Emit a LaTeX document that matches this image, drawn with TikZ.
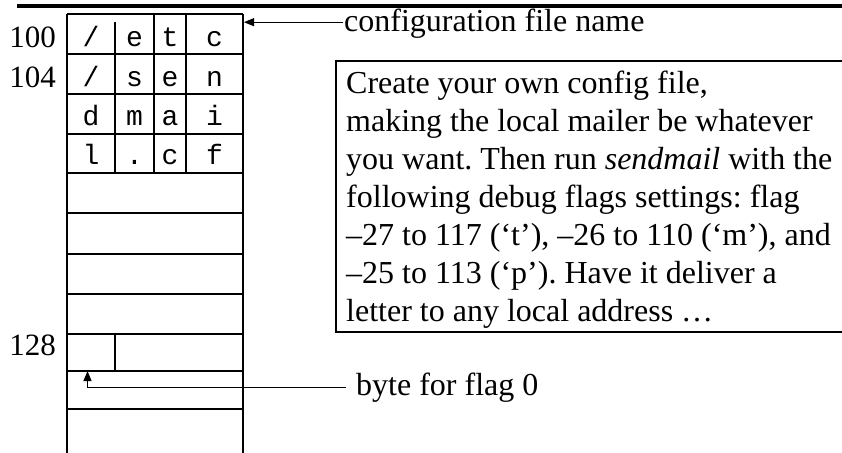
\documentclass[tikz,border=0pt]{standalone}
\usepackage{fontspec}
\setmainfont[Ligatures=NoCommon]{Liberation Serif}
\newfontfamily\cellfont{Liberation Mono}
\usetikzlibrary{arrows.meta}
\tikzset{
  memline/.style={line width=1.1pt},
  cellchar/.style={inner sep=0pt, anchor=base, font=\cellfont\fontsize{28}{28}\selectfont},
  addr/.style={inner sep=0pt, anchor=base east, font=\fontsize{31}{31}\selectfont},
  callout/.style={inner sep=0pt, anchor=base west, font=\fontsize{32}{32}\selectfont},
  pointer/.style={line width=1.1pt, -{Triangle[length=10pt,width=8pt]}},
}
\begin{document}
\frenchspacing
\begin{tikzpicture}[x=1pt,y=-1pt]
\useasboundingbox (0,0) rectangle (842,452);
\clip (0,0) rectangle (842,452);
% heading rule
\draw[line width=4pt] (17,6) -- (850,6);
% memory column
\draw[memline] (67,14) -- (67,460) (243,14) -- (243,460);
\foreach \y in {14,54,94,134,173,213,254,294,334,371,409}
  \draw[memline] (67,\y) -- (243,\y);
% byte dividers of the path name rows and of the flag word at 128
\draw[memline] (115,22) -- (115,173) (154,14) -- (154,173) (186,14) -- (186,173);
\draw[memline] (115,334) -- (115,371);
% path name characters, one per byte
\node[cellchar] (r1a) at (91,47) {/};
\node[cellchar] (r1b) at (134.5,47) {e};
\node[cellchar] (r1c) at (170,47) {t};
\node[cellchar] (r1d) at (214.5,47) {c};
\node[cellchar] (r2a) at (91,86) {/};
\node[cellchar] (r2b) at (134.5,86) {s};
\node[cellchar] (r2c) at (170,86) {e};
\node[cellchar] (r2d) at (214.5,86) {n};
\node[cellchar] (r3a) at (91,125) {d};
\node[cellchar] (r3b) at (134.5,125) {m};
\node[cellchar] (r3c) at (170,125) {a};
\node[cellchar] (r3d) at (214.5,125) {i};
\node[cellchar] (r4a) at (91,164) {l};
\node[cellchar] (r4b) at (134.5,164) {.};
\node[cellchar] (r4c) at (170,164) {c};
\node[cellchar] (r4d) at (214.5,164) {f};
% addresses
\node[addr] (a100) at (56,48) {100};
\node[addr] (a104) at (56,87) {104};
\node[addr] (a128) at (56,355) {128};
% callouts
\node[callout, inner xsep=1pt] (cfgname) at (343,32) {configuration file name};
\coordinate (cfgtip) at (244,0);
\draw[pointer] ([yshift=2pt]cfgname.west) -- ([yshift=2pt]cfgname.west -| cfgtip);
\node[callout, inner xsep=10pt] (flag0) at (346,395) {byte for flag 0};
\coordinate (flagtip) at (87.5,371);
\draw[pointer] (flag0.west) -| (flagtip);
% exercise note, its frame running off the right edge
\draw[memline] (850,61) -- (336,61) -- (336,332) -- (850,332);
\node[inner sep=0pt, anchor=north west, align=left,
      font=\fontsize{32}{38}\selectfont] (note) at (346,71)
  {Create your own config file,\\
   making the local mailer be whatever\\
   you want. Then run \textit{sendmail} with the\\
   following debug flags settings: flag\\
   –27 to 117 (‘t’), –26 to 110 (‘m’), and\\
   –25 to 113 (‘p’). Have it deliver a\\
   letter to any local address …};
\end{tikzpicture}
\end{document}
